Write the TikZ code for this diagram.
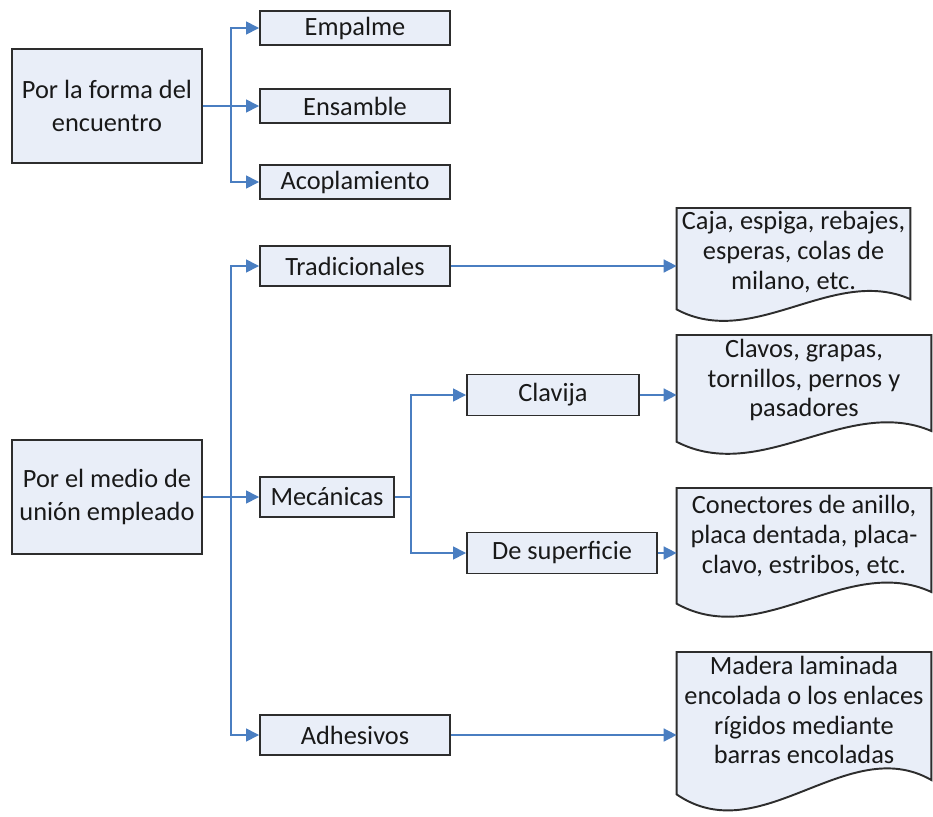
\documentclass[tikz,border=0pt]{standalone}
\usepackage{fontspec}
\setmainfont{Carlito}
\usepackage{xcolor}
\usepackage{tikz}
\usetikzlibrary{arrows.meta, positioning, calc, backgrounds}
\definecolor{boxfill}{RGB}{233,238,248}
\definecolor{boxline}{RGB}{45,45,45}
\definecolor{linkblue}{RGB}{74,126,193}

% document shape: node (gives x range), top y, bottom y (in px units)
\newcommand\docpath[3]{%
  \draw[docline] let \p1=(#1.west), \p2=(#1.east), \p3=(0,#2), \p4=(0,#3),
      \n1={\x2-\x1}, \n2={\y3-\y4} in
    (\x1,\y3) -- (\x2,\y3) -- (\x2,{\y3-0.80*\n2})
    .. controls ({\x1+0.67*\n1},{\y3-0.50*\n2}) and ({\x1+0.33*\n1},{\y3-1.25*\n2})
    .. (\x1,{\y3-0.89*\n2}) -- cycle;}

\begin{document}
\begin{tikzpicture}[
      x=0.2mm, y=-0.2mm,
      font=\fontsize{15}{17}\selectfont,
      box/.style={draw=boxline, fill=boxfill, line width=1.1pt, inner sep=0pt,
                  minimum width=38mm, minimum height=6.8mm, align=center, text=black!90},
      bigbox/.style={box, minimum height=22.8mm, font=\fontsize{15}{18.5}\selectfont},
      docnode/.style={inner sep=0pt, align=center, text=black!90, minimum width=50.8mm},
      docline/.style={draw=boxline, fill=boxfill, line width=1.1pt},
      conn/.style={draw=linkblue, line width=0.9pt},
      arr/.style={conn, -{Triangle[length=2.6mm, width=2.6mm]}},
    ]
    \useasboundingbox (0,0) rectangle (933,816);

    % upper group: by the form of the joint
    \node[bigbox] (forma) at (107,106) {Por la forma del\\encuentro};
    \node[box] (empalme) at (355,28) {Empalme};
    \node[box] (ensamble) at (355,106) {Ensamble};
    \node[box] (acopla) at (355,182) {Acoplamiento};

    \coordinate (j1) at (231,106);
    \draw[conn] (forma) -- (j1);
    \foreach \n in {empalme,ensamble,acopla}
      \draw[arr] (j1) |- (\n.west);

    % lower group: by the joining means
    \node[bigbox] (medio) at (107,497) {Por el medio de\\unión empleado};
    \node[box, minimum height=8mm] (trad) at (355,266) {Tradicionales};
    \node[box, minimum height=8mm, minimum width=26.8mm] (mec) at (327,497) {Mecánicas};
    \node[box, minimum height=8mm] (adh) at (355,735) {Adhesivos};
    \node[box, minimum height=8.2mm, minimum width=34.4mm] (clav) at (553,395) {Clavija};
    \node[box, minimum height=8.2mm] (sup) at (562,553) {De superficie};

    % document boxes (text only, outline drawn behind)
    \node[docnode, minimum width=46.6mm] (doc1) at (793.5,252)
      {Caja, espiga, rebajes,\\esperas, colas de\\milano, etc.};
    \node[docnode] (doc2) at (804,380)
      {Clavos, grapas,\\tornillos, pernos y\\pasadores};
    \node[docnode] (doc3) at (804,536)
      {Conectores de anillo,\\placa dentada, placa-\\clavo, estribos, etc.};
    \node[docnode] (doc4) at (804,710)
      {Madera laminada\\encolada o los enlaces\\rígidos mediante\\barras encoladas};

    \begin{pgfonlayer}{background}
      \docpath{doc1}{208}{322}
      \docpath{doc2}{335}{455}
      \docpath{doc3}{488}{618}
      \docpath{doc4}{652}{812}
    \end{pgfonlayer}

    \coordinate (j2) at (231,497);
    \draw[arr] (medio) -- (mec);
    \foreach \n in {trad,adh}
      \draw[arr] (j2) |- (\n.west);

    \coordinate (j3) at (411,497);
    \draw[conn] (mec) -- (j3);
    \foreach \n in {clav,sup}
      \draw[arr] (j3) |- (\n.west);

    % to the documents
    \draw[arr] (trad) -- (trad -| doc1.west);
    \draw[arr] (clav) -- (clav -| doc2.west);
    \draw[arr] (sup) -- (sup -| doc3.west);
    \draw[arr] (adh) -- (adh -| doc4.west);
  \end{tikzpicture}
\end{document}
